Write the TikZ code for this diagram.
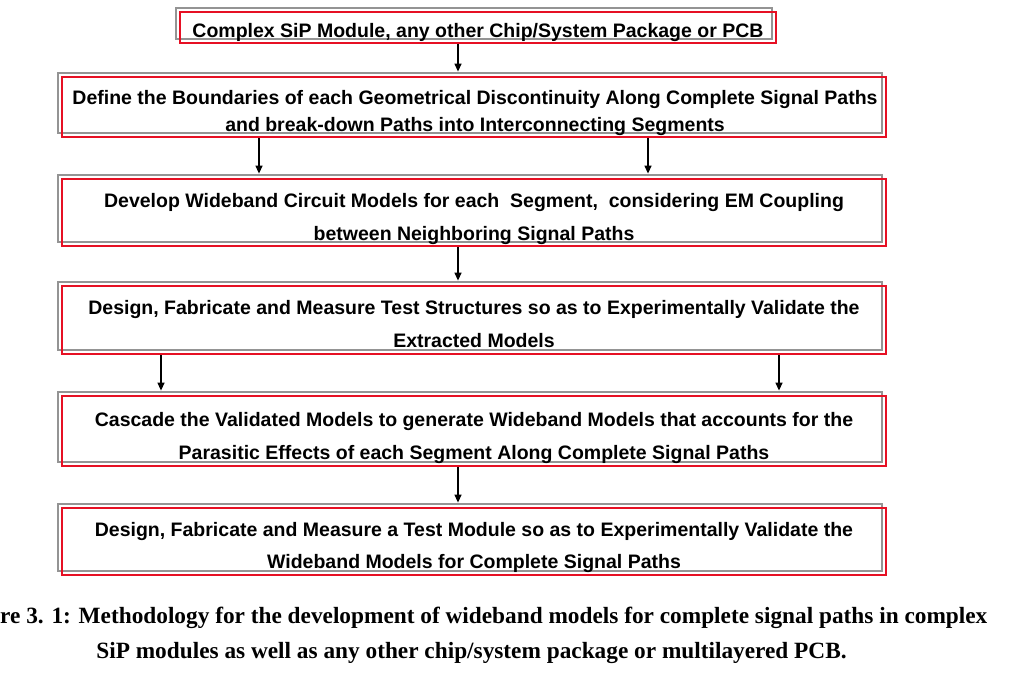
\documentclass[tikz,border=0pt]{standalone}
\usepackage{fontspec}
\setmainfont{Liberation Sans}
\newfontfamily\capfont{Liberation Serif}
\usetikzlibrary{arrows.meta}
\definecolor{boxred}{RGB}{230,16,36}
\definecolor{boxgray}{RGB}{148,148,148}
\tikzset{
  redbox/.style={draw=boxred, line width=2.8pt, inner sep=0pt},
  graybox/.style={draw=boxgray, line width=2.8pt, inner sep=0pt},
  boxtext/.style={inner sep=0pt, align=center, font=\bfseries\fontsize{19.5}{32.5}\selectfont},
  arr/.style={-{Triangle[length=8pt,width=7pt]}, line width=1.3pt, draw=black},
  captext/.style={font=\capfont\bfseries\fontsize{23.3}{25}\selectfont, inner sep=0pt}
}
\begin{document}
\begin{tikzpicture}[x=1pt,y=-1pt]
\useasboundingbox (0,0) rectangle (1015,692);
% gray frames (behind)
\node[graybox, minimum width=596pt, minimum height=31pt] (g1) at (474,23.5) {};
\node[graybox, minimum width=824pt, minimum height=60pt] (g2) at (470,103) {};
\node[graybox, minimum width=824pt, minimum height=67pt] (g3) at (470,208.5) {};
\node[graybox, minimum width=824pt, minimum height=68pt] (g4) at (470,316) {};
\node[graybox, minimum width=824pt, minimum height=70pt] (g5) at (470,427) {};
\node[graybox, minimum width=824pt, minimum height=67pt] (g6) at (470,537.5) {};
% red frames
\node[redbox, minimum width=596pt, minimum height=31pt] (b1) at (478,27.5) {};
\node[redbox, minimum width=824pt, minimum height=60pt] (b2) at (474,107) {};
\node[redbox, minimum width=824pt, minimum height=67pt] (b3) at (474,212.5) {};
\node[redbox, minimum width=824pt, minimum height=68pt] (b4) at (474,320) {};
\node[redbox, minimum width=824pt, minimum height=70pt] (b5) at (474,431) {};
\node[redbox, minimum width=824pt, minimum height=67pt] (b6) at (474,541.5) {};
% texts
\node[boxtext] (t1) at ([yshift=-5pt]b1.center)
  {Complex SiP Module, any other Chip/System Package or PCB};
\node[boxtext, font=\bfseries\fontsize{19.5}{27}\selectfont] (t2) at ([xshift=1pt,yshift=-6pt]b2.center)
  {Define the Boundaries of each Geometrical Discontinuity Along Complete Signal Paths\\
   and break-down Paths into Interconnecting Segments};
\node[boxtext] (t3) at ([yshift=-6.5pt]b3.center)
  {Develop Wideband Circuit Models for each\ \ Segment,\ \ considering EM Coupling\\
   between Neighboring Signal Paths};
\node[boxtext] (t4) at ([yshift=-4pt]b4.center)
  {Design, Fabricate and Measure Test Structures so as to Experimentally Validate the\\
   Extracted Models};
\node[boxtext] (t5) at ([yshift=-7pt]b5.center)
  {Cascade the Validated Models to generate Wideband Models that accounts for the\\
   Parasitic Effects of each Segment Along Complete Signal Paths};
\node[boxtext] (t6) at ([yshift=-6pt]b6.center)
  {Design, Fabricate and Measure a Test Module so as to Experimentally Validate the\\
   Wideband Models for Complete Signal Paths};
% connectors
\draw[arr] (b1.south -| 458,0) -- (g2.north -| 458,0);
\draw[arr] (b2.south -| 259,0) -- (g3.north -| 259,0);
\draw[arr] (b2.south -| 648,0) -- (g3.north -| 648,0);
\draw[arr] (b3.south -| 458,0) -- (g4.north -| 458,0);
\draw[arr] (b4.south -| 161,0) -- (g5.north -| 161,0);
\draw[arr] (b4.south -| 779,0) -- (g5.north -| 779,0);
\draw[arr] (b5.south -| 458,0) -- (g6.north -| 458,0);
% caption
\node[captext, anchor=west] (c1) at (0,618)
  {re 3. 1: Methodology for the development of wideband models for complete signal paths in complex};
\node[captext] (c2) at (471.5,653)
  {SiP modules as well as any other chip/system package or multilayered PCB.};
\end{tikzpicture}
\end{document}
